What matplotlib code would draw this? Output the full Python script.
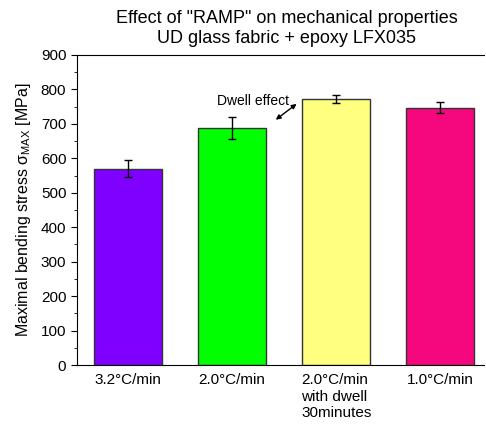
import matplotlib
matplotlib.use("Agg")
import matplotlib.pyplot as plt
from matplotlib.ticker import MultipleLocator

categories = ["3.2°C/min", "2.0°C/min", "2.0°C/min\nwith dwell\n30minutes", "1.0°C/min"]
values = [570, 688, 773, 747]
errors = [25, 33, 12, 16]
colors = ["#8000ff", "#00ff00", "#ffff80", "#f5087e"]

plt.rcParams['font.family'] = ['Liberation Sans', 'DejaVu Sans']
plt.rcParams['mathtext.fontset'] = 'custom'
plt.rcParams['mathtext.rm'] = 'Liberation Sans'
plt.rcParams['mathtext.it'] = 'Liberation Sans:italic'

fig = plt.figure(figsize=(4.86, 4.33), dpi=100)
ax = fig.add_axes([0.158, 0.157, 0.838, 0.716])

x = list(range(len(categories)))
ax.bar(x, values, width=0.65, color=colors, edgecolor="#333333", linewidth=1.0,
       yerr=errors, capsize=3, error_kw=dict(ecolor="black", elinewidth=1.0, capthick=1.0))

ax.set_xlim(-0.49, 3.42)
ax.set_ylim(0, 900)
ax.yaxis.set_major_locator(MultipleLocator(100))
ax.yaxis.set_minor_locator(MultipleLocator(50))
ax.set_xticks(x)
ax.set_xticklabels(categories, fontsize=11, ha='center', multialignment='left')
ax.tick_params(axis='x', length=0, pad=6)
ax.tick_params(axis='y', which='major', direction='out', length=4, labelsize=11)
ax.tick_params(axis='y', which='minor', direction='out', length=2)
ax.spines['right'].set_visible(False)

ax.set_ylabel('Maximal bending stress σ$_{\\mathrm{MAX}}$ [MPa]', fontsize=11.5, labelpad=6)

fig.suptitle('Effect of "RAMP" on mechanical properties\nUD glass fabric + epoxy LFX035',
             x=0.59, y=0.978, fontsize=13, linespacing=1.25)

ax.annotate('', xy=(1.62, 758), xytext=(1.42, 712),
            arrowprops=dict(arrowstyle='<|-|>', color='black', lw=1.0,
                            mutation_scale=7, shrinkA=0, shrinkB=0))
ax.text(1.2, 765, 'Dwell effect', fontsize=10, ha='center', va='center')

fig.savefig('out.png', dpi=100)
